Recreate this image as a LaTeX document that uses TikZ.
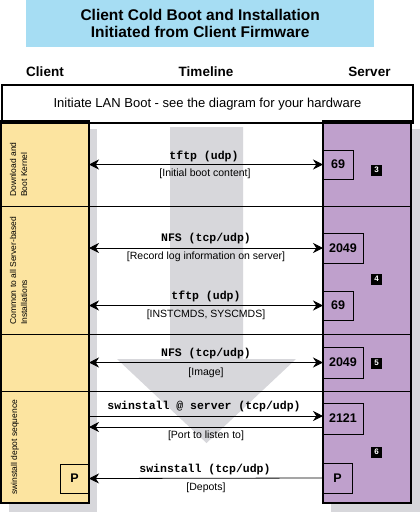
\documentclass[tikz,border=0pt]{standalone}
\usepackage{fontspec}
\setmainfont{Liberation Sans}
\newfontfamily\monof{Liberation Mono}
\usetikzlibrary{arrows.meta}
\definecolor{titleblue}{RGB}{166,221,243}
\definecolor{cliyellow}{RGB}{252,228,160}
\definecolor{srvpurple}{RGB}{191,160,204}
\definecolor{shadowgray}{RGB}{215,215,219}
\begin{document}
\begin{tikzpicture}[x=1pt,y=-1pt,
  proto/.style={font=\monof\bfseries\fontsize{11.5}{12}\selectfont, inner sep=0pt},
  note/.style={font=\fontsize{10.5}{12}\selectfont, inner sep=0pt},
  port/.style={draw, line width=0.8pt, font=\bfseries\fontsize{12.5}{14}\selectfont, inner sep=0pt, outer sep=0pt, anchor=north west},
  badge/.style={fill=black, text=white, minimum size=11pt, inner sep=0pt, font=\bfseries\fontsize{8}{9}\selectfont},
  biarrow/.style={line width=0.8pt, {Stealth[length=10pt,width=10pt]}-{Stealth[length=10pt,width=10pt]}},
  rarrow/.style={line width=0.8pt, -{Stealth[length=10pt,width=10pt]}},
  larrow/.style={line width=0.8pt, {Stealth[length=10pt,width=10pt]}-},
  side/.style={rotate=90, align=left, anchor=west, inner sep=0pt, font=\fontsize{8.5}{11}\selectfont},
  column/.style={draw, line width=2pt, inner sep=0pt, outer sep=0pt, anchor=north west},
  divider/.style={line width=0.8pt},
  header/.style={font=\bfseries\fontsize{13.5}{15}\selectfont}
]
\useasboundingbox (0,0) rectangle (420,512);
\fill[white] (0,0) rectangle (420,512);
% shadows
\fill[shadowgray] (9,129) rectangle (97,512);
\fill[shadowgray] (331,129) rectangle (420,512);
% big timeline arrow
\fill[shadowgray] (170,127) -- (243,127) -- (243,359) -- (296,359) -- (206.5,443) -- (117,359) -- (170,359) -- cycle;
% columns
\node[column, fill=cliyellow, minimum width=88pt, minimum height=382pt] (client) at (1,121) {};
\node[column, fill=srvpurple, minimum width=88pt, minimum height=382pt] (server) at (323,121) {};
% dividers
\foreach \yy in {206,334,391} \draw[divider] (1,\yy) -- (411,\yy);
% title
\node[fill=titleblue, minimum width=348pt, minimum height=47pt, anchor=north west, align=center, inner sep=0pt,
  font=\bfseries\fontsize{15.5}{17}\selectfont] (title) at (26,0) {Client Cold Boot and Installation\\Initiated from Client Firmware};
% headers
\node[header] (hclient) at (45,72) {Client};
\node[header] (htime) at (206,72) {Timeline};
\node[header] (hserver) at (369.5,72) {Server};
% banner
\node[draw, line width=2pt, minimum width=411pt, minimum height=38pt, anchor=north west, inner sep=0pt,
  font=\fontsize{13}{15}\selectfont] (banner) at (1,84) {Initiate LAN Boot - see the diagram for your hardware};
% side labels
\node[side] (s1) at (18.5,197) {Download and\\Boot Kernel};
\node[side] (s2) at (18.5,325) {Common to all Server-based\\Installations};
\node[side] (s4) at (15,495) {swinstall depot sequence};
% port boxes
\node[port, minimum width=30pt, minimum height=29pt] (p1) at (323,150) {69};
\node[port, minimum width=40pt, minimum height=30pt] (p2) at (323,233) {2049};
\node[port, minimum width=30pt, minimum height=29pt] (p3) at (323,291) {69};
\node[port, minimum width=40pt, minimum height=31pt] (p4) at (323,347) {2049};
\node[port, minimum width=40pt, minimum height=31pt] (p5) at (323,403) {2121};
\node[port, minimum width=29pt, minimum height=30pt] (p6) at (323,463) {P};
\node[port, minimum width=29pt, minimum height=29pt] (pc) at (60,464) {P};
% badges
\node[badge] (b3) at (376.5,170) {3};
\node[badge] (b4) at (376.5,279) {4};
\node[badge] (b5) at (376.5,363) {5};
\node[badge] (b6) at (376.5,452) {6};
% arrows
\coordinate (r4a) at (0,416);
\coordinate (r4b) at (0,427);
\draw[biarrow] (client.east |- p1.west) -- (p1.west);
\draw[biarrow] (client.east |- p2.west) -- (p2.west);
\draw[biarrow] (client.east |- p3.west) -- (p3.west);
\draw[biarrow] (client.east |- p4.west) -- (p4.west);
\draw[rarrow] (client.east |- r4a) -- (server.west |- r4a);
\draw[larrow] (client.east |- r4b) -- (server.west |- r4b);
\draw[larrow] (pc.east) -- (p6.west);
% message labels
\node[proto] (l1) at (204,156) {tftp (udp)};
\node[note] (n1) at (205,174) {[Initial boot content]};
\node[proto] (l2) at (206,239) {NFS (tcp/udp)};
\node[note] (n2) at (206,257) {[Record log information on server]};
\node[proto] (l3) at (206,296) {tftp (udp)};
\node[note] (n3) at (206,315) {[INSTCMDS, SYSCMDS]};
\node[proto] (l4) at (206,354) {NFS (tcp/udp)};
\node[note] (n4) at (206,373) {[Image]};
\node[proto] (l5) at (204,407) {swinstall @ server (tcp/udp)};
\node[note] (n5) at (206,436) {[Port to listen to]};
\node[proto] (l6) at (205,470) {swinstall (tcp/udp)};
\node[note] (n6) at (206,488) {[Depots]};
\end{tikzpicture}
\end{document}
